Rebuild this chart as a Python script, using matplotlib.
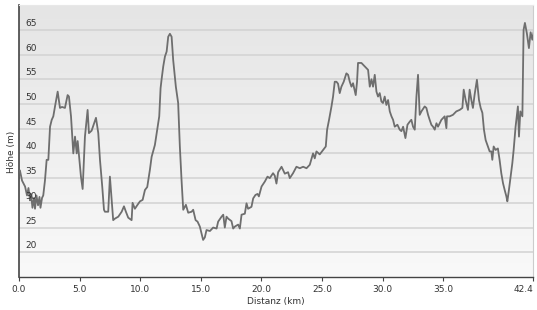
import numpy as np
from matplotlib import pyplot as plt
from matplotlib import transforms

# elevation profile (km, m)
dist = [0.08, 0.25, 0.5, 0.66, 0.78, 0.91, 0.99, 1.11, 1.24, 1.32, 1.44, 1.57, 1.69, 1.77, 1.9, 2.0,
        2.14, 2.28, 2.42, 2.56, 2.7, 2.83, 2.97, 3.19, 3.38, 3.55, 3.79, 4.01, 4.12, 4.29, 4.39, 4.48,
        4.62, 4.76, 4.84, 4.95, 5.11, 5.25, 5.44, 5.66, 5.77, 5.99, 6.21, 6.35, 6.54, 6.68, 6.87, 7.01,
        7.09, 7.36, 7.5, 7.64, 7.77, 7.91, 8.19, 8.47, 8.66, 8.82, 9.01, 9.29, 9.37, 9.56, 9.75, 9.98,
        10.2, 10.39, 10.58, 10.8, 10.94, 11.21, 11.4, 11.57, 11.68, 11.76, 11.9, 12.04, 12.18, 12.31,
        12.45, 12.59, 12.72, 12.94, 13.13, 13.27, 13.41, 13.55, 13.77, 13.96,
        14.24, 14.37, 14.57, 14.73, 14.92, 15.06, 15.19, 15.33, 15.47, 15.75, 16.02, 16.3, 16.43, 16.71,
        16.85, 16.98, 17.12, 17.26, 17.53, 17.67, 17.81, 18.08, 18.22, 18.36, 18.63, 18.77, 18.9, 19.18,
        19.32, 19.51, 19.68, 19.79, 20.01, 20.28, 20.5, 20.69, 20.96,
        21.1, 21.24, 21.38, 21.66, 21.93, 22.2, 22.34, 22.61, 22.89, 23.17, 23.44, 23.72, 23.99, 24.26,
        24.4, 24.54, 24.81, 25.09, 25.31, 25.42, 25.58, 25.78, 25.91, 26.05, 26.19, 26.32, 26.46, 26.6,
        26.79, 27.01, 27.15, 27.29, 27.43, 27.56, 27.78, 27.89, 27.97,
        28.25, 28.52, 28.8, 28.94, 29.08, 29.21, 29.35, 29.49, 29.62, 29.76, 29.9, 30.03, 30.17, 30.31,
        30.45, 30.59, 30.73, 30.86, 31.0, 31.22, 31.41, 31.55, 31.69, 31.88, 32.05, 32.23, 32.37, 32.51,
        32.65, 32.79, 32.92, 33.06, 33.2, 33.47, 33.61, 33.75, 33.88, 34.02, 34.16, 34.3, 34.44, 34.57,
        34.71, 34.85, 35.12,
        35.26, 35.31, 35.53, 35.8, 36.08, 36.36, 36.58, 36.69, 36.85, 37.04, 37.18, 37.32, 37.45, 37.59,
        37.78, 37.95, 38.09, 38.23, 38.36, 38.5, 38.69, 38.83, 38.97, 39.05, 39.16, 39.32, 39.51, 39.65,
        39.79, 39.93, 40.07, 40.21, 40.29, 40.42, 40.56, 40.7, 40.81, 40.97, 41.16, 41.25, 41.36, 41.53,
        41.63, 41.74, 41.9, 42.07, 42.21, 42.35, 42.46]
height = [36.5, 34.5, 33.3, 31.5, 33, 30.5, 31.8, 29, 31, 28.8, 31.5, 29.5, 31.2, 29, 31, 31.5,
          34.5, 38.7, 38.7, 45.4, 46.8, 47.5, 49.5, 52.5, 49.2, 49.4, 49.2, 51.8, 51.5, 47.5, 43.4, 40,
          43.4, 40, 42.5, 39.5, 35.3, 32.8, 43.4, 48.8, 44.1, 44.6, 46.2, 47.2, 44.1, 38.7, 33.2, 28.6,
          28.2, 28.2, 35.3, 30.6, 26.5, 26.8, 27.2, 28.2, 29.3, 28.2, 27, 26.5, 30, 28.8, 29.5, 30.3,
          30.6, 32.6, 33.2, 36.7, 39.3, 41.7, 44.8, 47.5, 53.2, 54.9, 57.6, 59.6, 60.6, 63.6,
          64.2, 63.6, 58.9, 53.5, 50.2, 41.4, 34.6, 28.6, 29.6, 28,
          28.2, 28.6, 26.5, 26.2, 25.2, 23.8, 22.5, 23, 24.5, 24.3, 25, 24.8, 26.2, 27.2,
          27.6, 25, 27.2, 26.8, 26.3, 24.8, 25.2, 25.6, 24.8, 27.6, 27.8, 29.9, 28.8, 29.2,
          30.9, 31.6, 31.8, 31.3, 33.3, 34.3, 35.3, 35, 36,
          35.5, 33.9, 36.2, 37.3, 35.9, 36.2, 35, 36, 37.3, 37, 37.3, 37, 37.7, 40,
          39, 40.4, 39.8, 40.7, 41.4, 44.8, 46.8, 49.5, 51.5, 54.5, 54.5, 54.1, 52.2, 53.5,
          54.5, 56.2, 55.9, 54.5, 53.5, 54.2, 51.8, 54.5, 58.3,
          58.3, 57.6, 56.9, 53.5, 55, 53.5, 55.9, 52.5, 51.5, 52.2, 50.5, 50.2, 51.5, 49.8,
          50.8, 48.5, 47.5, 46.8, 45.4, 45.8, 44.8, 44.5, 45.4, 43.1, 45.8, 46.4, 46.8, 45.4,
          44.8, 51.5, 55.9, 47.8, 48.5, 49.5, 49.2, 47.8, 46.8, 45.8, 45.4, 44.8, 46.1, 45.4,
          46.1, 46.8, 47.5,
          45.1, 47.5, 47.5, 47.8, 48.5, 48.8, 49.2, 52.9, 50.8, 48.8, 52.9, 50.8, 49.2, 51.9,
          54.9, 50.8, 49.2, 48.2, 44.8, 42.7, 41.4, 40.4, 40.4, 38.7, 41.4, 40.7, 41, 38.7,
          36, 34, 32.6, 31.3, 30.3, 32.6, 35.3, 38, 40.7, 45.4, 49.5, 43.4, 48.5, 47.5,
          65, 66.4, 64.3, 61.3, 64.5, 63, 64.5]

xticks = [0, 5, 10, 15, 20, 25, 30, 35, 42.4]
xlabels = ["0.0", "5.0", "10.0", "15.0", "20.0", "25.0", "30.0", "35.0", "42.4"]
yticks = [20, 25, 30, 35, 40, 45, 50, 55, 60, 65]

fig = plt.figure(figsize=(5.37, 3.10), dpi=100)
ax = fig.add_axes([0.0354, 0.1065, 0.957, 0.877])

# grey gradient background, darker at the top
grad = np.linspace(0, 1, 256).reshape(-1, 1)
ax.imshow(grad, extent=[0, 1, 0, 1], transform=ax.transAxes, aspect="auto",
          cmap=plt.matplotlib.colors.LinearSegmentedColormap.from_list("bg", ["#f9f9f9", "#e5e5e5"]),
          origin="lower", zorder=0)

for v in yticks:
    ax.axhline(v, color="#d2d2d2", lw=1.1, zorder=1)

ax.plot(dist, height, color="#6e6e6e", lw=1.3, zorder=3)

ax.set_xlim(0, 42.4)
ax.set_ylim(15, 70)
ax.set_xticks(xticks)
ax.set_xticklabels(xlabels, fontsize=6.5, color="#333333")
ax.get_xticklabels()[-1].set_horizontalalignment("right")
ax.get_xticklabels()[-1].set_x(42.4)
ax.tick_params(axis="x", length=3, width=0.8, color="#444444", pad=3)
ax.set_yticks([])

# y labels sit inside the plot, just above each grid line
trans = transforms.blended_transform_factory(ax.transAxes, ax.transData)
for v in yticks:
    ax.text(0.012, v + 0.4, str(v), transform=trans, fontsize=6.5, color="#333333",
            ha="left", va="bottom", zorder=4)

ax.spines["left"].set_color("#444444")
ax.spines["left"].set_linewidth(1.2)
ax.spines["bottom"].set_color("#444444")
ax.spines["bottom"].set_linewidth(1.0)
ax.spines["right"].set_color("#cccccc")
ax.spines["top"].set_color("#e8e8e8")

ax.set_xlabel("Distanz (km)", fontsize=6.5, color="#333333", labelpad=2)
fig.text(0.022, 0.51, "Höhe (m)", rotation=90, fontsize=6.5, color="#333333",
         ha="center", va="center")

fig.savefig("out.png", dpi=100)
